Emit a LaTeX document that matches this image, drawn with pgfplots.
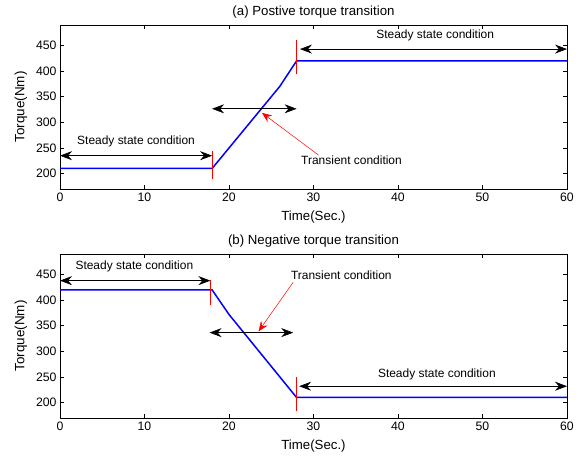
\documentclass[border=0pt]{standalone}
\usepackage{fontspec}
\setmainfont{Liberation Sans}
\usepackage{pgfplots}
\pgfplotsset{compat=1.18}
\usetikzlibrary{arrows.meta}
\tikzset{ann/.style={font=\fontsize{12}{14}\selectfont}}
\begin{document}
\begin{tikzpicture}
\path[use as bounding box] (0bp,0bp) rectangle (580bp,459bp);
\pgfplotsset{
  myax/.style={
    scale only axis, width=507bp, height=164bp,
    xmin=0,xmax=60,ymin=170,ymax=490,
    xtick={0,10,...,60}, ytick={200,250,...,450},
    tick align=inside, major tick length=4bp,
    clip=false,
    axis line style={line width=0.8bp},
    tick style={black, line width=0.6bp},
    ticklabel style={font=\fontsize{12.3}{14}\selectfont},
    /pgf/number format/assume math mode=true,
    xlabel={Time(Sec.)}, ylabel={Torque(Nm)},
    every axis x label/.style={at={(axis description cs:0.5,0)}, yshift=-28bp, anchor=center, font=\fontsize{13.3}{15}\selectfont},
    every axis y label/.style={at={(axis description cs:0,0.5)}, xshift=-39bp, rotate=90, anchor=center, font=\fontsize{13.5}{15}\selectfont},
    every axis title/.style={at={(axis description cs:0.5,1)}, yshift=13bp, anchor=center, font=\fontsize{13.3}{15}\selectfont},
  },
  dbl/.style={black, line width=0.6bp, {Stealth[length=12bp,width=9bp,inset=4bp]}-{Stealth[length=12bp,width=9bp,inset=4bp]}},
  redarr/.style={red, line width=0.5bp, -{Stealth[length=10bp,width=8bp,inset=3.5bp]}},
  redv/.style={red, line width=0.7bp},
  sig/.style={blue, line width=1.5bp},
}
\begin{axis}[myax, at={(60bp,270bp)}, anchor=south west, title={(a) Postive torque transition}]
\addplot[sig] coordinates {(0,210)(18,210)(26,370)(28,420)(60,420)};
\addplot[redv] coordinates {(18,190)(18,245)};
\addplot[redv] coordinates {(28,395)(28,460)};
\addplot[dbl] coordinates {(0,235)(18,235)};
\addplot[dbl] coordinates {(18,326.5)(28,326.5)};
\addplot[dbl] coordinates {(28.4,443)(60,443)};
\addplot[redarr] coordinates {(30.6,236)(23.9,318.6)};
\node[ann] at (axis cs:9,263) {Steady state condition};
\node[ann] at (axis cs:34.5,226) {Transient condition};
\node[ann] at (axis cs:44.4,469) {Steady state condition};
\end{axis}
\begin{axis}[myax, at={(60bp,41bp)}, anchor=south west, title={(b) Negative torque transition}]
\addplot[sig] coordinates {(0,420)(18,420)(20,372)(28,210)(60,210)};
\addplot[redv] coordinates {(17.8,390)(17.8,440)};
\addplot[redv] coordinates {(28,183)(28,250)};
\addplot[dbl] coordinates {(0,438)(17.8,438)};
\addplot[dbl] coordinates {(17.7,336.6)(27.6,336.6)};
\addplot[dbl] coordinates {(28.3,232)(60,232)};
\addplot[redarr] coordinates {(27.6,435)(23.5,339)};
\node[ann] at (axis cs:8.8,465) {Steady state condition};
\node[ann] at (axis cs:33.3,448) {Transient condition};
\node[ann] at (axis cs:44.6,256) {Steady state condition};
\end{axis}
\end{tikzpicture}
\end{document}
